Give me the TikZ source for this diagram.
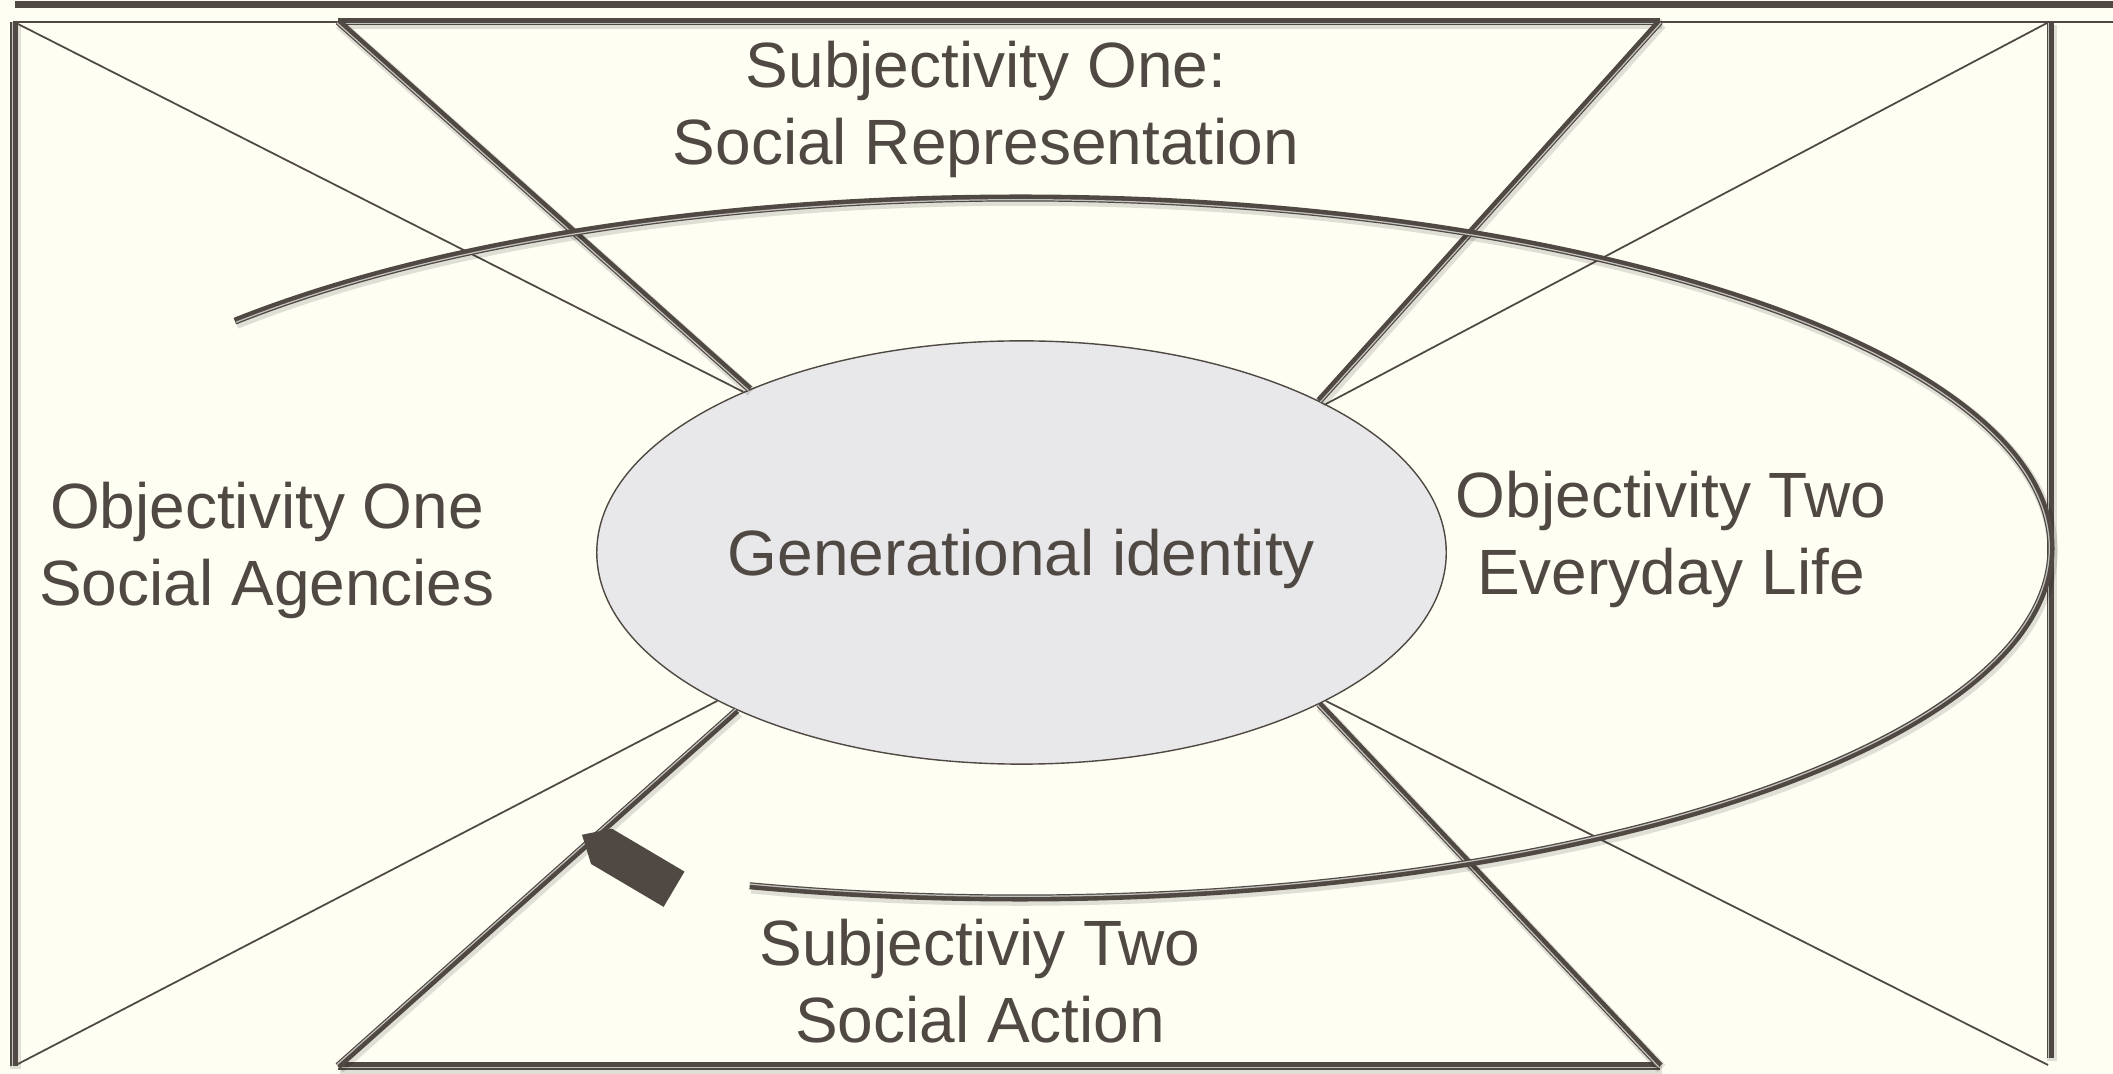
\documentclass[tikz,border=0pt]{standalone}
\usepackage{fontspec}
\setmainfont{Liberation Sans}
\usetikzlibrary{shapes.geometric,calc}
\definecolor{ink}{RGB}{80,72,67}
\definecolor{paper}{RGB}{254,254,243}
\definecolor{lens}{RGB}{232,232,234}
\definecolor{seam}{RGB}{196,194,190}
\tikzset{
  hair/.style={draw=ink,line width=0.5pt},
  cast/.style={preaction={draw=black,opacity=0.12,line width=3pt,transform canvas={shift={(1.5,2.5)}}}},
  rail/.style={draw=ink,line width=2pt,cast,postaction={draw=seam,line width=0.35pt,transform canvas={shift={#1}}}},
  lbl/.style={text=ink,align=center,font=\fontsize{18.2}{21.9}\selectfont,inner sep=0pt}
}

\begin{document}
\begin{tikzpicture}[x=0.01cm,y=-0.01cm]
\useasboundingbox (0,0) rectangle (2113,1074);
\fill[paper] (0,0) rectangle (2113,1074);
% frame corners, trapezoid corners, centre of the open ring
\coordinate (rule w) at (15,4.5);
\coordinate (rule e) at (2113,4.5);
\coordinate (top w) at (13,22);
\coordinate (top e) at (2113,22);
\coordinate (lp1) at (14,22);
\coordinate (lp2) at (14,1066);
\coordinate (rp1) at (2050.5,23);
\coordinate (rp2) at (2050.5,1058);
\coordinate (nw) at (16,23);
\coordinate (ne) at (2047,23);
\coordinate (sw) at (16,1065);
\coordinate (se) at (2048,1065);
\coordinate (t1) at (338,21.5);
\coordinate (t2) at (1660,21.5);
\coordinate (b1) at (338,1066);
\coordinate (b2) at (1660,1066);
\coordinate (ring) at (1020,548);

\node[ellipse,draw=ink,line width=0.4pt,fill=lens,minimum width=8.49cm,minimum height=4.23cm,inner sep=0pt,
  text=ink,text depth=0pt,font=\fontsize{18.2}{21.9}\selectfont] (gi) at (1021.5,552.5) {Generational identity};

% rules along the top and the two side posts
\draw[ink,line width=2pt] (rule w) -- (rule e);
\draw[ink,line width=0.6pt] (top w) -- (top e);
\draw[rail={(-1.7,0)}] (lp1) -- (lp2);
\draw[rail={(-1.7,0)}] (rp1) -- (rp2);

% thin spokes from the corners
\foreach \c/\a in {nw/150,ne/26.8,sw/206.8,se/334.5}
  \draw[hair] (\c) -- (gi.\a);

% the two trapezoids
\draw[rail={(0,1.7)}] (t1) -- (t2);
\draw[rail={(0,1.7)}] (b1) -- (b2);
\foreach \c/\a/\dx/\dy in {t1/149.8/-1.14/1.26,t2/27/1.14/1.26,b1/209.6/-1.12/-1.28,b2/333.8/-1.25/1.15}
  \draw[rail={(\dx,\dy)}] (\c) -- (gi.\a);

% open ring
\draw[ink,line width=2pt,cast] ($(ring)+(-139.6:1031 and 350)$)
  arc[start angle=-139.6,end angle=105.2,x radius=1031,y radius=350];
\draw[seam,line width=0.35pt] ($(ring)+(-139.6:1029.3 and 348.3)$)
  arc[start angle=-139.6,end angle=105.2,x radius=1029.3,y radius=348.3];

% pointer
\begin{scope}[shift={(628,862)},rotate=149.4]
  \fill[ink] (53.5,0) -- (30.8,20.5) -- (-53.5,20.5) -- (-53.5,-20.5) -- (30.8,-20.5) -- cycle;
\end{scope}

\node[lbl] (subj1) at (986,109) {Subjectivity One:\\Social Representation};
\node[lbl] (obj1) at (267,550) {Objectivity One\\Social Agencies};
\node[lbl] (obj2) at (1671,539) {Objectivity Two\\Everyday Life};
\node[lbl] (subj2) at (980,981) {Subjectiviy Two\\Social Action};
\end{tikzpicture}
\end{document}
